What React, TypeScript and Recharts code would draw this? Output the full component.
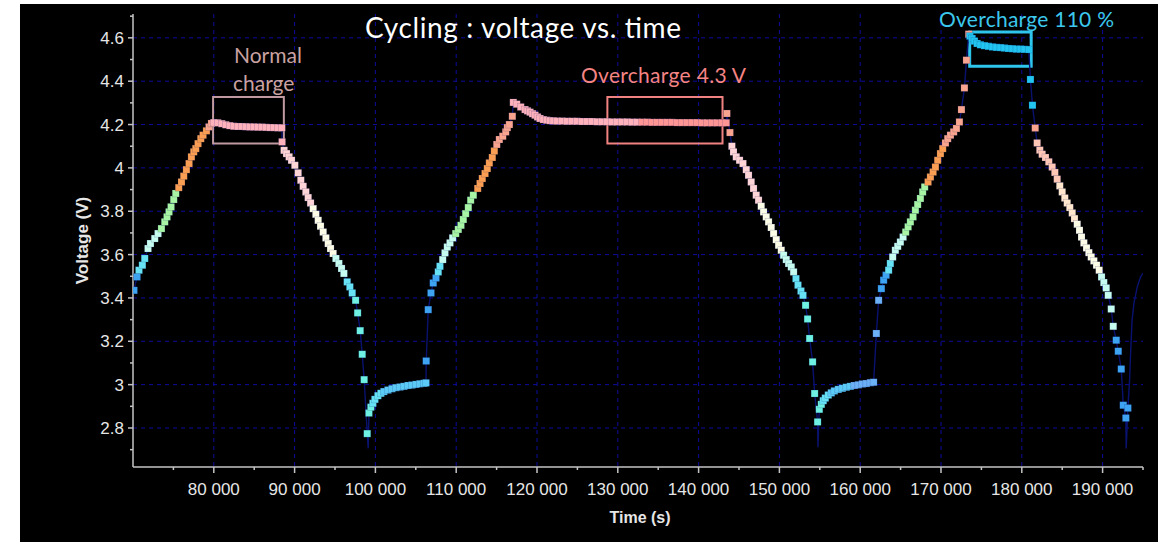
import { CartesianGrid, Line, LineChart, ReferenceArea, XAxis, YAxis } from "recharts";

// time (s) / voltage (V), one array per phase of the cycling
const charge1Time = [70120, 70500, 70740, 71160, 71450, 71860, 72160, 72690, 73100, 73520, 73930, 74210, 74460, 74710, 75040, 75290, 75660, 76000, 76280, 76610, 76940, 77230, 77520, 77770, 78050, 78390, 78670, 79090, 79410, 79710, 80000, 80490, 80990, 81480, 81980, 82470, 82970, 83470, 83960, 84460, 84950, 85450, 85940, 86440, 86930, 87430, 87920, 88420];
const charge1Volt = [3.435, 3.497, 3.528, 3.551, 3.582, 3.628, 3.651, 3.674, 3.697, 3.72, 3.751, 3.774, 3.797, 3.82, 3.854, 3.882, 3.909, 3.935, 3.962, 3.992, 4.02, 4.051, 4.074, 4.089, 4.112, 4.135, 4.151, 4.171, 4.189, 4.205, 4.209, 4.208, 4.204, 4.199, 4.195, 4.192, 4.191, 4.191, 4.19, 4.189, 4.189, 4.188, 4.188, 4.187, 4.186, 4.186, 4.185, 4.185];
const charge1Tone: [string, number][] = [["B", 2], ["C", 3], ["W", 4], ["G", 7], ["O", 12], ["S", 2], ["P", 18]];

const discharge1Time = [88450, 88700, 89000, 89320, 89620, 90030, 90440, 90770, 91060, 91390, 91680, 91980, 92300, 92630, 92920, 93210, 93540, 93870, 94160, 94450, 94770, 95110, 95480, 95810, 96100, 96510, 96840, 97130, 97550, 97800, 98120, 98370, 98610, 98990, 99110];
const discharge1Volt = [4.12, 4.081, 4.066, 4.051, 4.035, 4.012, 3.977, 3.943, 3.915, 3.889, 3.863, 3.838, 3.812, 3.786, 3.758, 3.731, 3.704, 3.677, 3.651, 3.628, 3.605, 3.582, 3.559, 3.536, 3.513, 3.474, 3.451, 3.423, 3.389, 3.331, 3.249, 3.14, 3.023, 2.774, 2.706];
const discharge1Tone: [string, number][] = [["P", 1], ["L", 11], ["Y", 9], ["W", 4], ["C", 3], ["T", 6], ["N", 1]];

const rest1Time = [99200, 99440, 99690, 99940, 100310, 100680, 101050, 101550, 102050, 102540, 103040, 103530, 104030, 104520, 105020, 105510, 106010, 106260];
const rest1Volt = [2.869, 2.896, 2.914, 2.932, 2.949, 2.96, 2.968, 2.975, 2.981, 2.986, 2.989, 2.992, 2.996, 2.998, 3.001, 3.004, 3.006, 3.008];
const rest1Tone: [string, number][] = [["T", 2], ["C", 4], ["R", 12]];

const charge2Time = [106290, 106540, 106880, 107160, 107500, 107780, 107990, 108330, 108610, 108900, 109230, 109560, 109940, 110260, 110590, 110880, 111170, 111500, 111790, 112120, 112660, 112950, 113230, 113570, 113850, 114100, 114470, 114720, 115020, 115340, 115760, 116130, 116330, 116580, 116950, 117070];
const charge2Volt = [3.109, 3.346, 3.423, 3.469, 3.492, 3.52, 3.546, 3.577, 3.608, 3.635, 3.654, 3.677, 3.697, 3.716, 3.735, 3.762, 3.789, 3.817, 3.851, 3.874, 3.905, 3.928, 3.951, 3.974, 3.997, 4.023, 4.048, 4.078, 4.108, 4.131, 4.146, 4.166, 4.186, 4.2, 4.238, 4.302];
const charge2Tone: [string, number][] = [["B", 5], ["C", 2], ["W", 5], ["G", 8], ["O", 8], ["S", 7], ["P", 1]];

const hold2Time = [117490, 117990, 118520, 118830, 119140, 119450, 119760, 120070, 120380, 120790, 121210, 121620, 122030, 122480, 123100, 123720, 124340, 124960, 125580, 126200, 126820, 127440, 128060, 128680, 129300, 129920, 130540, 131160, 131770, 132390, 133010, 133630, 134250, 134870, 135490, 136110, 136730, 137350, 137970, 138590, 139210, 139830, 140450, 141060, 141680, 142300, 142920, 143420];
const hold2Volt = [4.294, 4.281, 4.269, 4.263, 4.257, 4.25, 4.243, 4.235, 4.228, 4.223, 4.22, 4.218, 4.217, 4.216, 4.216, 4.215, 4.215, 4.215, 4.214, 4.214, 4.214, 4.213, 4.213, 4.213, 4.212, 4.212, 4.212, 4.212, 4.211, 4.211, 4.211, 4.211, 4.21, 4.21, 4.21, 4.21, 4.21, 4.209, 4.209, 4.209, 4.209, 4.209, 4.208, 4.208, 4.208, 4.208, 4.208, 4.208];
const hold2Tone: [string, number][] = [["P", 30], ["Q", 18]];

const discharge2Time = [143500, 143880, 144120, 144320, 144660, 145070, 145490, 145900, 146180, 146510, 146800, 147130, 147420, 147750, 148040, 148370, 148660, 148990, 149280, 149610, 149900, 150230, 150520, 150850, 151140, 151470, 151760, 152050, 152300, 152670, 152920, 153240, 153490, 153740, 154110, 154360, 154730, 154770];
const discharge2Volt = [4.251, 4.163, 4.1, 4.074, 4.051, 4.035, 4.02, 3.992, 3.966, 3.935, 3.905, 3.874, 3.851, 3.823, 3.797, 3.774, 3.751, 3.725, 3.697, 3.669, 3.643, 3.62, 3.597, 3.577, 3.559, 3.543, 3.52, 3.489, 3.459, 3.432, 3.412, 3.366, 3.303, 3.213, 3.105, 2.959, 2.828, 2.711];
const discharge2Tone: [string, number][] = [["S", 2], ["L", 11], ["Y", 9], ["W", 5], ["C", 4], ["T", 6], ["N", 1]];

const rest2Time = [154940, 155190, 155430, 155680, 156050, 156420, 156800, 157290, 157790, 158280, 158780, 159270, 159770, 160260, 160760, 161260, 161660];
const rest2Volt = [2.886, 2.909, 2.926, 2.938, 2.952, 2.962, 2.971, 2.978, 2.983, 2.988, 2.992, 2.996, 2.999, 3.003, 3.005, 3.009, 3.011];
const rest2Tone: [string, number][] = [["T", 2], ["C", 3], ["R", 6], ["U", 6]];

const charge3Time = [162000, 162280, 162620, 162900, 163200, 163520, 163730, 164020, 164350, 164640, 164970, 165310, 165630, 165930, 166210, 166540, 166830, 167110, 167450, 167730, 167980, 168400, 168690, 169020, 169310, 169590, 169930, 170210, 170550, 170830, 171170, 171570, 171910, 172280, 172530, 172900, 173150, 173430];
const charge3Volt = [3.236, 3.389, 3.443, 3.482, 3.505, 3.528, 3.559, 3.589, 3.62, 3.638, 3.658, 3.681, 3.704, 3.728, 3.751, 3.774, 3.805, 3.831, 3.859, 3.889, 3.912, 3.935, 3.958, 3.981, 4.004, 4.035, 4.066, 4.089, 4.115, 4.135, 4.151, 4.166, 4.182, 4.212, 4.269, 4.369, 4.497, 4.617];
const charge3Tone: [string, number][] = [["U", 2], ["B", 3], ["C", 2], ["W", 5], ["G", 9], ["O", 7], ["S", 10]];

const hold3Time = [173580, 173850, 174140, 174470, 174880, 175380, 175870, 176370, 176860, 177360, 177850, 178350, 178840, 179340, 179840, 180330, 180860];
const hold3Volt = [4.608, 4.597, 4.585, 4.574, 4.568, 4.564, 4.561, 4.558, 4.556, 4.555, 4.553, 4.551, 4.55, 4.548, 4.548, 4.547, 4.546];
const hold3Tone: [string, number][] = [["K", 17]];

const discharge3Time = [181070, 181320, 181660, 181900, 182230, 182520, 182930, 183340, 183760, 184090, 184380, 184700, 185000, 185320, 185620, 185940, 186240, 186520, 186860, 187140, 187390, 187680, 188010, 188300, 188590, 188920, 189250, 189580, 189870, 190150, 190450, 190700, 191070, 191320, 191690, 191940, 192310, 192560, 192880, 192920];
const discharge3Volt = [4.408, 4.289, 4.184, 4.115, 4.082, 4.063, 4.048, 4.028, 4.004, 3.979, 3.948, 3.917, 3.889, 3.861, 3.838, 3.817, 3.792, 3.766, 3.74, 3.712, 3.681, 3.654, 3.631, 3.609, 3.589, 3.571, 3.551, 3.528, 3.497, 3.471, 3.446, 3.412, 3.349, 3.269, 3.205, 3.154, 3.072, 2.905, 2.846, 2.705];
const discharge3Tone: [string, number][] = [["K", 2], ["S", 1], ["M", 8], ["H", 7], ["Y", 10], ["W", 6], ["B", 5], ["N", 1]];

const tail3Time = [193130, 193340, 193460, 193650, 193870, 194290, 194700, 195000];
const tail3Volt = [2.892, 3.02, 3.143, 3.297, 3.374, 3.451, 3.497, 3.515];
const tail3Tone: [string, number][] = [["B", 1], ["N", 7]];

const xMajor = [80000, 90000, 100000, 110000, 120000, 130000, 140000, 150000, 160000, 170000, 180000, 190000];
const xTicks = [75000, 80000, 85000, 90000, 95000, 100000, 105000, 110000, 115000, 120000, 125000, 130000, 135000, 140000, 145000, 150000, 155000, 160000, 165000, 170000, 175000, 180000, 185000, 190000, 195000];
const yMajor = [2.8, 3, 3.2, 3.4, 3.6, 3.8, 4, 4.2, 4.4, 4.6];
const yTicks = [2.7, 2.8, 2.9, 3, 3.1, 3.2, 3.3, 3.4, 3.5, 3.6, 3.7, 3.8, 3.9, 4, 4.1, 4.2, 4.3, 4.4, 4.5, 4.6, 4.7];

const TONE: Record<string, string | null> = {
  B: "#3ea4f2",
  C: "#66e2f4",
  T: "#6ef0e2",
  W: "#c6fbf0",
  G: "#a6f4a4",
  O: "#f99e52",
  S: "#f9a48e",
  P: "#ffb2bc",
  Q: "#ff9696",
  L: "#ffd4d6",
  Y: "#fbfbe6",
  R: "#5ccaf6",
  U: "#6cb0f6",
  K: "#22c4f0",
  M: "#ffc6b6",
  H: "#ffe6cc",
  N: null
};

const AXIS = "#c4c4c4";
const GRID = "#0c0c9c";
const TRACE = "#0a1270";

const build = (time: number[], volt: number[], tone: [string, number][]) => {
  const codes = tone.flatMap(([c, n]) => Array(n).fill(c));
  return time.map((t, i) => ({ t, v: volt[i], c: TONE[codes[i] ?? "N"] }));
};

const data = [
  ...build(charge1Time, charge1Volt, charge1Tone),
  ...build(discharge1Time, discharge1Volt, discharge1Tone),
  ...build(rest1Time, rest1Volt, rest1Tone),
  ...build(charge2Time, charge2Volt, charge2Tone),
  ...build(hold2Time, hold2Volt, hold2Tone),
  ...build(discharge2Time, discharge2Volt, discharge2Tone),
  ...build(rest2Time, rest2Volt, rest2Tone),
  ...build(charge3Time, charge3Volt, charge3Tone),
  ...build(hold3Time, hold3Volt, hold3Tone),
  ...build(discharge3Time, discharge3Volt, discharge3Tone),
  ...build(tail3Time, tail3Volt, tail3Tone)
];

const tickFont = "'Liberation Sans', Arial, sans-serif";
const noteFont = "Lato, 'Open Sans', sans-serif";

const formatTime = (v: number) => `${Math.round(v / 1000)} 000`;

const XTick = (props: any) => {
  const { x, y, payload } = props;
  const major = xMajor.includes(payload.value);
  return (
    <g>
      <line x1={x} x2={x} y1={y} y2={y + (major ? 6 : 3)} stroke={AXIS} strokeWidth={1.5} />
      {major && (
        <text x={x} y={y + 28} textAnchor="middle" fill="#e6e6e6" fontSize={17} fontFamily={tickFont}>
          {formatTime(payload.value)}
        </text>
      )}
    </g>
  );
};

const YTick = (props: any) => {
  const { x, y, payload } = props;
  const major = yMajor.some((m) => Math.abs(m - payload.value) < 1e-6);
  return (
    <g>
      <line x1={x - (major ? 5 : 3)} x2={x} y1={y} y2={y} stroke={AXIS} strokeWidth={1.5} />
      {major && (
        <text x={x - 9} y={y + 6} textAnchor="end" fill="#e6e6e6" fontSize={17} fontFamily={tickFont}>
          {String(Number(payload.value.toFixed(1)))}
        </text>
      )}
    </g>
  );
};

const renderDot = (props: any) => {
  const { cx, cy, payload, index } = props;
  if (!payload || !payload.c || cx == null || cy == null) return <g key={`d${index}`} />;
  return (
    <rect
      key={`d${index}`}
      x={cx - 3.5}
      y={cy - 3.5}
      width={7}
      height={7}
      fill={payload.c}
      stroke="#0b1660"
      strokeWidth={0.5}
      strokeOpacity={0.3}
    />
  );
};

const App = () => {
  return (
    <div style={{ position: "absolute", left: 0, top: 0, width: 1158, height: 542, background: "#fff" }}>
      <div style={{ position: "absolute", left: 20, top: 4, width: 1138, height: 538, background: "#000" }}>
        <LineChart width={1138} height={538} data={data} margin={{ top: 10, right: 15, bottom: 0, left: 0 }}>
          <CartesianGrid
            stroke={GRID}
            strokeDasharray="4 4"
            horizontalValues={yMajor}
            verticalValues={xMajor}
          />
          <XAxis
            type="number"
            dataKey="t"
            domain={[70000, 195000]}
            allowDataOverflow
            ticks={xTicks}
            interval={0}
            height={75}
            tickSize={0}
            tickMargin={0}
            tickLine={false}
            axisLine={{ stroke: AXIS, strokeWidth: 1.5 }}
            tick={<XTick />}
            label={{
              content: (p: any) => (
                <text
                  x={p.viewBox.x + p.viewBox.width / 2 + 2}
                  y={p.viewBox.y + 56}
                  textAnchor="middle"
                  fill="#e6e6e6"
                  fontSize={16}
                  fontWeight="bold"
                  fontFamily={tickFont}
                >
                  Time (s)
                </text>
              )
            }}
          />
          <YAxis
            type="number"
            dataKey="v"
            domain={[2.62, 4.71]}
            allowDataOverflow
            ticks={yTicks}
            interval={0}
            width={113}
            tickSize={0}
            tickMargin={0}
            tickLine={false}
            axisLine={{ stroke: AXIS, strokeWidth: 1.5 }}
            tick={<YTick />}
            label={{
              content: (p: any) => {
                const cx = p.viewBox.x + 62;
                const cy = p.viewBox.y + p.viewBox.height / 2;
                return (
                  <text
                    x={cx}
                    y={cy}
                    transform={`rotate(-90 ${cx} ${cy})`}
                    textAnchor="middle"
                    dominantBaseline="central"
                    fill="#e6e6e6"
                    fontSize={17}
                    fontWeight="bold"
                    fontFamily={tickFont}
                  >
                    Voltage (V)
                  </text>
                );
              }
            }}
          />
          <Line
            type="linear"
            dataKey="v"
            stroke={TRACE}
            strokeWidth={1.4}
            dot={renderDot}
            activeDot={false}
            isAnimationActive={false}
          />
          <ReferenceArea x1={79910} x2={88670} y1={4.112} y2={4.327} fill="none" stroke="#c09aa0" strokeWidth={2} />
          <ReferenceArea x1={128710} x2={142960} y1={4.112} y2={4.327} fill="none" stroke="#f08282" strokeWidth={2} />
          <ReferenceArea x1={173550} x2={181160} y1={4.469} y2={4.627} fill="none" stroke="#2fc6ee" strokeWidth={3} />
        </LineChart>
        <svg
          width={1138}
          height={538}
          style={{ position: "absolute", left: 0, top: 0, pointerEvents: "none" }}
        >
          <text x={345} y={34} fill="#ffffff" fontSize={28} fontFamily={noteFont} textLength={316} lengthAdjust="spacing">
            Cycling : voltage vs. time
          </text>
          <text x={214} y={59} fill="#caa2a2" fontSize={21} fontFamily={noteFont}>
            Normal
          </text>
          <text x={213} y={87} fill="#caa2a2" fontSize={21} fontFamily={noteFont}>
            charge
          </text>
          <text x={561} y={79} fill="#f48484" fontSize={21} fontFamily={noteFont} textLength={165} lengthAdjust="spacing">
            Overcharge 4.3 V
          </text>
          <text x={919} y={23} fill="#3cc8ec" fontSize={21} fontFamily={noteFont} textLength={175} lengthAdjust="spacing">
            Overcharge 110 %
          </text>
        </svg>
      </div>
    </div>
  );
};

export default App;
